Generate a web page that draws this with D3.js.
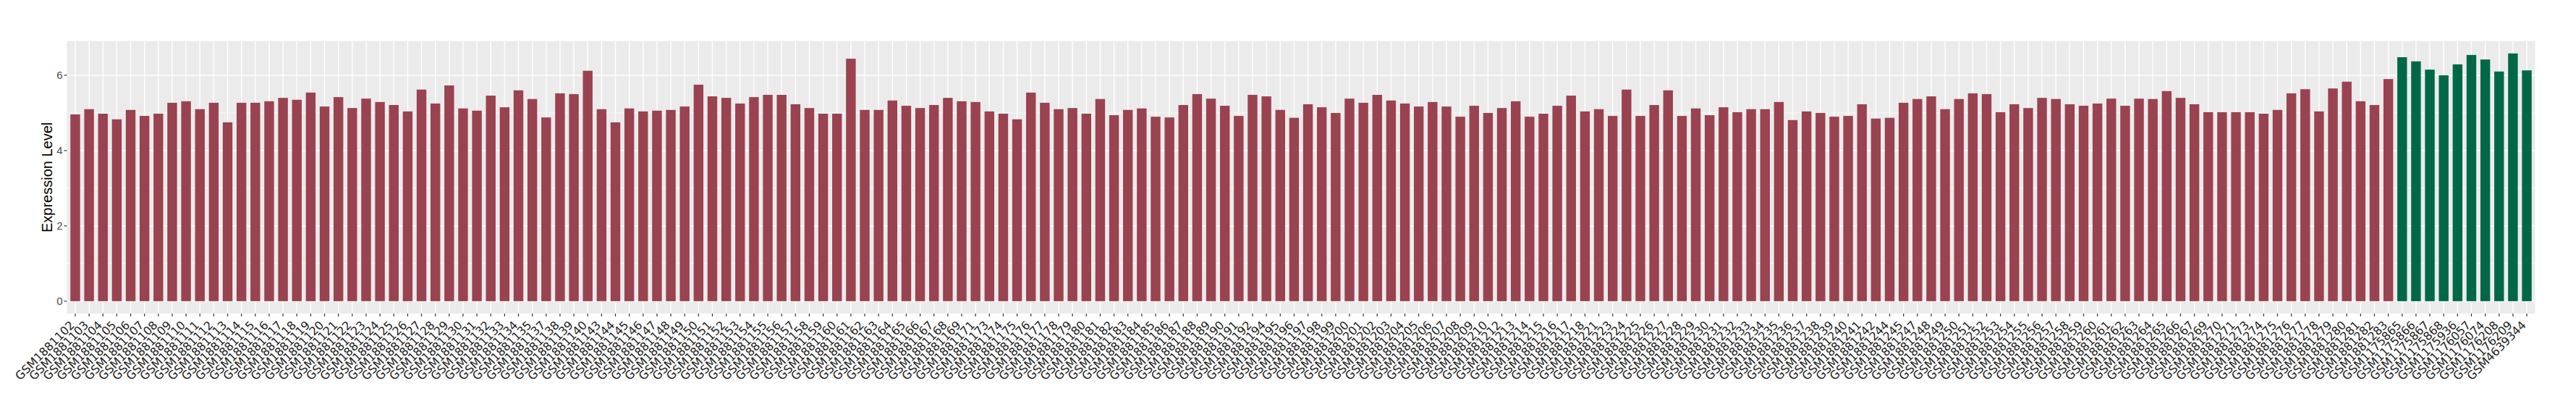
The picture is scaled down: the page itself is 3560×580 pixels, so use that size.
<!DOCTYPE html>
<html>
<head>
<script src="https://cdn.jsdelivr.net/npm/d3@7"></script>
  <meta charset="utf-8">
  <title>Expression Level</title>
  <style>
  body { margin: 0; background: white; }
  text { font-family: "Liberation Sans", Arial, sans-serif; }
  text.x-label { font-family: "DejaVu Sans", sans-serif; }
  .grid-major { stroke: white; stroke-width: 1.4; }
  .grid-minor { stroke: white; stroke-width: 0.7; }
  .tick-mark { stroke: #333; stroke-width: 1.2; }
  </style>
</head>
<body>
<script type="text/javascript">

// samples of the first group (red)
var redSamples = [
  "GSM1881102","GSM1881103","GSM1881104","GSM1881105","GSM1881106","GSM1881107","GSM1881108","GSM1881109","GSM1881110","GSM1881111",
  "GSM1881112","GSM1881113","GSM1881114","GSM1881115","GSM1881116","GSM1881117","GSM1881118","GSM1881119","GSM1881120","GSM1881121",
  "GSM1881122","GSM1881123","GSM1881124","GSM1881125","GSM1881126","GSM1881127","GSM1881128","GSM1881129","GSM1881130","GSM1881131",
  "GSM1881132","GSM1881133","GSM1881134","GSM1881135","GSM1881137","GSM1881138","GSM1881139","GSM1881140","GSM1881143","GSM1881144",
  "GSM1881145","GSM1881146","GSM1881147","GSM1881148","GSM1881149","GSM1881150","GSM1881151","GSM1881152","GSM1881153","GSM1881154",
  "GSM1881155","GSM1881156","GSM1881157","GSM1881158","GSM1881159","GSM1881160","GSM1881161","GSM1881162","GSM1881163","GSM1881164",
  "GSM1881165","GSM1881166","GSM1881167","GSM1881168","GSM1881169","GSM1881171","GSM1881173","GSM1881174","GSM1881175","GSM1881176",
  "GSM1881177","GSM1881178","GSM1881179","GSM1881180","GSM1881181","GSM1881182","GSM1881183","GSM1881184","GSM1881185","GSM1881186",
  "GSM1881187","GSM1881188","GSM1881189","GSM1881190","GSM1881191","GSM1881192","GSM1881194","GSM1881195","GSM1881196","GSM1881197",
  "GSM1881198","GSM1881199","GSM1881200","GSM1881201","GSM1881202","GSM1881203","GSM1881204","GSM1881205","GSM1881206","GSM1881207",
  "GSM1881208","GSM1881209","GSM1881210","GSM1881212","GSM1881213","GSM1881214","GSM1881215","GSM1881216","GSM1881217","GSM1881218",
  "GSM1881221","GSM1881223","GSM1881224","GSM1881225","GSM1881226","GSM1881227","GSM1881228","GSM1881229","GSM1881230","GSM1881231",
  "GSM1881232","GSM1881233","GSM1881234","GSM1881235","GSM1881236","GSM1881237","GSM1881238","GSM1881239","GSM1881240","GSM1881241",
  "GSM1881242","GSM1881244","GSM1881245","GSM1881247","GSM1881248","GSM1881249","GSM1881250","GSM1881251","GSM1881252","GSM1881253",
  "GSM1881254","GSM1881255","GSM1881256","GSM1881257","GSM1881258","GSM1881259","GSM1881260","GSM1881261","GSM1881262","GSM1881263",
  "GSM1881264","GSM1881265","GSM1881266","GSM1881267","GSM1881269","GSM1881270","GSM1881271","GSM1881273","GSM1881274","GSM1881275",
  "GSM1881276","GSM1881277","GSM1881278","GSM1881279","GSM1881280","GSM1881281","GSM1881282","GSM1881283"
];

var redValues = [
  4.96,5.10,4.98,4.83,5.08,4.92,4.98,5.27,5.31,5.10,5.27,4.75,5.27,5.27,5.31,5.40,5.35,5.54,5.17,5.42,
  5.13,5.38,5.29,5.21,5.04,5.62,5.25,5.73,5.12,5.06,5.46,5.15,5.60,5.37,4.88,5.52,5.50,6.12,5.10,4.75,
  5.12,5.04,5.06,5.08,5.17,5.75,5.44,5.40,5.25,5.42,5.48,5.48,5.23,5.13,4.98,4.98,6.44,5.08,5.08,5.33,
  5.19,5.13,5.21,5.40,5.31,5.29,5.04,4.98,4.83,5.54,5.27,5.10,5.13,4.98,5.37,4.94,5.08,5.12,4.90,4.88,
  5.21,5.50,5.38,5.19,4.92,5.48,5.44,5.08,4.87,5.23,5.15,5.00,5.38,5.27,5.48,5.33,5.25,5.17,5.29,5.17,
  4.90,5.19,5.00,5.13,5.31,4.90,4.98,5.19,5.46,5.04,5.10,4.92,5.62,4.92,5.21,5.60,4.92,5.12,4.94,5.15,
  5.02,5.10,5.10,5.29,4.81,5.04,5.00,4.90,4.92,5.23,4.85,4.87,5.27,5.37,5.44,5.10,5.37,5.52,5.50,5.02,
  5.23,5.13,5.40,5.37,5.23,5.19,5.25,5.38,5.19,5.38,5.37,5.58,5.40,5.23,5.02,5.02,5.02,5.02,4.98,5.08,
  5.52,5.63,5.04,5.65,5.83,5.31,5.21,5.90
];

// samples of the second group (green)
var greenSamples = [
  "GSM1175865","GSM1175866","GSM1175867","GSM1175868","GSM1175936",
  "GSM1176057","GSM1176074","GSM1176208","GSM1176209","GSM4639344"
];

var greenValues = [6.48,6.37,6.15,6.00,6.29,6.54,6.42,6.10,6.58,6.13];

var yTicks = [0, 2, 4, 6];
var yMinor = [1, 3, 5];

var colors = {red: "#9A4250", green: "#006847"};

var data = redSamples.map(function(d, i){
  return {name: d, value: redValues[i], group: "red"};
}).concat(greenSamples.map(function(d, i){
  return {name: d, value: greenValues[i], group: "green"};
}));

var width = 3560,
    height = 580;

var margin = {top: 56.7, right: 56.5, bottom: 147, left: 92.5};

var svg = d3.select("body").append("svg")
          .attr("width", width)
          .attr("height", height);

var maxVal = d3.max(data, function(d){ return d.value; });

// ggplot style expansion of 5%
var y = d3.scaleLinear()
          .domain([-0.05 * maxVal, 1.05 * maxVal])
          .range([height - margin.bottom, margin.top]);

var x = d3.scaleBand()
          .domain(data.map(function(d){ return d.name; }))
          .range([margin.left, width - margin.right])
          .paddingInner(0)
          .paddingOuter(0.1);

var step = x.step();
var barW = step * 0.7;

// panel
svg.append("rect")
    .attr("x", margin.left)
    .attr("y", margin.top)
    .attr("width", width - margin.left - margin.right)
    .attr("height", height - margin.top - margin.bottom)
    .style("fill", "#EBEBEB");

svg.selectAll("line.grid-minor")
    .data(yMinor).enter().append("line")
    .attr("class", "grid-minor")
    .attr("x1", margin.left)
    .attr("x2", width - margin.right)
    .attr("y1", function(d){ return y(d); })
    .attr("y2", function(d){ return y(d); });

svg.selectAll("line.grid-major-y")
    .data(yTicks).enter().append("line")
    .attr("class", "grid-major grid-major-y")
    .attr("x1", margin.left)
    .attr("x2", width - margin.right)
    .attr("y1", function(d){ return y(d); })
    .attr("y2", function(d){ return y(d); });

svg.selectAll("line.grid-major-x")
    .data(data).enter().append("line")
    .attr("class", "grid-major grid-major-x")
    .attr("x1", function(d){ return x(d.name) + step / 2; })
    .attr("x2", function(d){ return x(d.name) + step / 2; })
    .attr("y1", margin.top)
    .attr("y2", height - margin.bottom);

// bars
svg.selectAll("rect.bar")
    .data(data).enter().append("rect")
    .attr("class", "bar")
    .attr("x", function(d){ return x(d.name) + (step - barW) / 2; })
    .attr("width", barW)
    .attr("y", function(d){ return y(d.value); })
    .attr("height", function(d){ return y(0) - y(d.value); })
    .style("fill", function(d){ return colors[d.group]; });

// y axis
var yAxis = svg.append("g");
yAxis.selectAll("line")
    .data(yTicks).enter().append("line")
    .attr("class", "tick-mark")
    .attr("x1", margin.left - 4)
    .attr("x2", margin.left)
    .attr("y1", function(d){ return y(d); })
    .attr("y2", function(d){ return y(d); });
yAxis.selectAll("text")
    .data(yTicks).enter().append("text")
    .attr("x", margin.left - 6)
    .attr("y", function(d){ return y(d); })
    .attr("dy", "0.36em")
    .attr("text-anchor", "end")
    .style("font-size", "15px")
    .style("fill", "#4D4D4D")
    .text(function(d){ return d; });

// x axis
var xAxis = svg.append("g");
var yBase = height - margin.bottom;
xAxis.selectAll("line")
    .data(data).enter().append("line")
    .attr("class", "tick-mark")
    .attr("x1", function(d){ return x(d.name) + step / 2; })
    .attr("x2", function(d){ return x(d.name) + step / 2; })
    .attr("y1", yBase)
    .attr("y2", yBase + 4);
xAxis.selectAll("text")
    .data(data).enter().append("text")
    .attr("class", "x-label")
    .attr("transform", function(d){
      return "translate(" + (x(d.name) + step / 2 - 4) + "," + (yBase + 13) + ") rotate(-45)";
    })
    .attr("dy", "0.35em")
    .attr("text-anchor", "end")
    .style("font-size", "16px")
    .style("fill", "#222")
    .text(function(d){ return d.name; });

// axis title
svg.append("text")
    .attr("transform", "translate(65," + ((margin.top + height - margin.bottom) / 2) + ") rotate(-90)")
    .attr("dy", "0.35em")
    .attr("text-anchor", "middle")
    .style("font-size", "20px")
    .style("fill", "black")
    .text("Expression Level");

</script>
</body>
</html>
